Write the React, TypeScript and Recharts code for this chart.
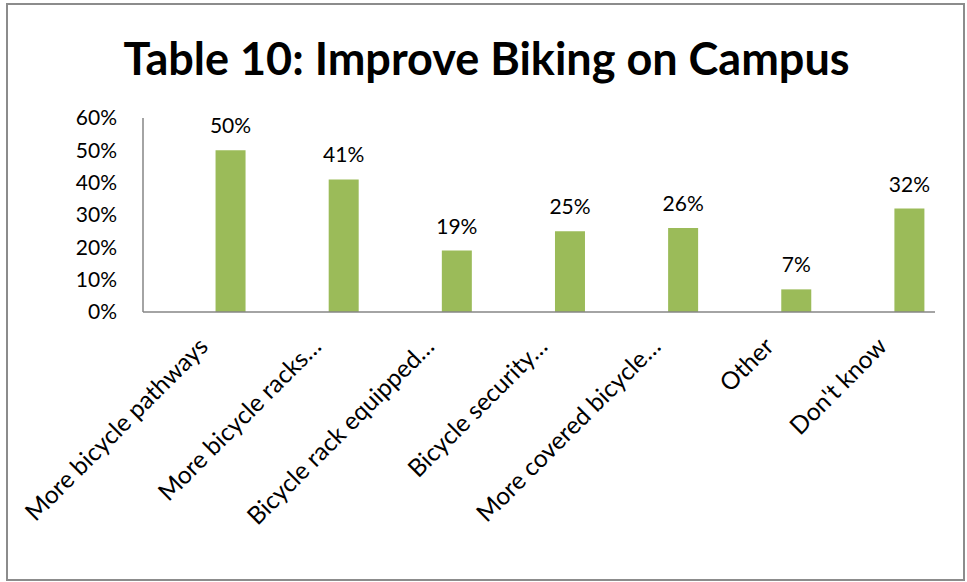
import { BarChart, Bar, XAxis, YAxis, LabelList } from 'recharts';

const categories = [
  'More bicycle pathways',
  'More bicycle racks…',
  'Bicycle rack equipped…',
  'Bicycle security…',
  'More covered bicycle…',
  'Other',
  "Don't know",
];
const shares = [50, 41, 19, 25, 26, 7, 32];
const yTicks = [0, 10, 20, 30, 40, 50, 60];

// pos is only the category index, used by the hidden numeric axis so bars sit right of centre like the Excel original
const data = categories.map((name, i) => ({ name, pos: i, share: shares[i] }));
const posTicks = categories.map((_, i) => i);

const FONT = 'Lato, "Open Sans", sans-serif';
const AXIS = '#868686';
const GREEN = '#9BBB59';

const SlantedTick = ({ x, y, payload }: any) => (
  <text
    x={x + 10}
    y={y - 2}
    transform={`rotate(-45 ${x + 10} ${y - 2})`}
    textAnchor="end"
    fontFamily={FONT}
    fontSize={24.5}
    fill="#000"
  >
    {payload.value}
  </text>
);

export default function App() {
  return (
    <div style={{ position: 'relative', width: 967, height: 582, background: '#fff', overflow: 'hidden' }}>
      <style>{'body { margin: 0; }'}</style>
      <div
        style={{
          position: 'absolute',
          left: 0,
          top: 34,
          width: 967,
          textAlign: 'center',
          fontFamily: 'Lato, sans-serif',
          fontWeight: 700,
          fontSize: 45,
          lineHeight: '48px',
          paddingLeft: 6,
          boxSizing: 'border-box',
        }}
      >
        Table 10: Improve Biking on Campus
      </div>
      <div style={{ position: 'absolute', left: 0, top: 0 }}>
        <BarChart
          width={967}
          height={582}
          data={data}
          margin={{ top: 118, right: 32, bottom: 0, left: 0 }}
        >
          <XAxis
            xAxisId="cat"
            dataKey="name"
            type="category"
            height={270}
            interval={0}
            tickLine={false}
            tickSize={0}
            tickMargin={38}
            axisLine={{ stroke: AXIS, strokeWidth: 1.5 }}
            tick={<SlantedTick />}
          />
          <XAxis
            xAxisId="pos"
            dataKey="pos"
            type="number"
            domain={[-0.77, 6.23]}
            ticks={posTicks}
            allowDataOverflow
            hide
          />
          <YAxis
            width={143}
            domain={[0, 60]}
            ticks={yTicks}
            interval={0}
            tickLine={false}
            tickSize={0}
            tickMargin={26}
            axisLine={{ stroke: AXIS, strokeWidth: 1.5 }}
            tickFormatter={(v: number) => `${v}%`}
            tick={{ fontFamily: FONT, fontSize: 21, fill: '#000' }}
          />
          <Bar xAxisId="pos" dataKey="share" fill={GREEN} barSize={30} isAnimationActive={false}>
            <LabelList
              dataKey="share"
              position="top"
              offset={17}
              formatter={(v: any) => `${v}%`}
              style={{ fontFamily: FONT, fontSize: 21, fill: '#000' }}
            />
          </Bar>
        </BarChart>
      </div>
      {/* outer frame of the Excel chart area */}
      <svg
        width={967}
        height={582}
        style={{ position: 'absolute', left: 0, top: 0, pointerEvents: 'none' }}
      >
        <rect x={7} y={4} width={957} height={576} fill="none" stroke="#8c8c8c" strokeWidth={2} />
      </svg>
    </div>
  );
}
